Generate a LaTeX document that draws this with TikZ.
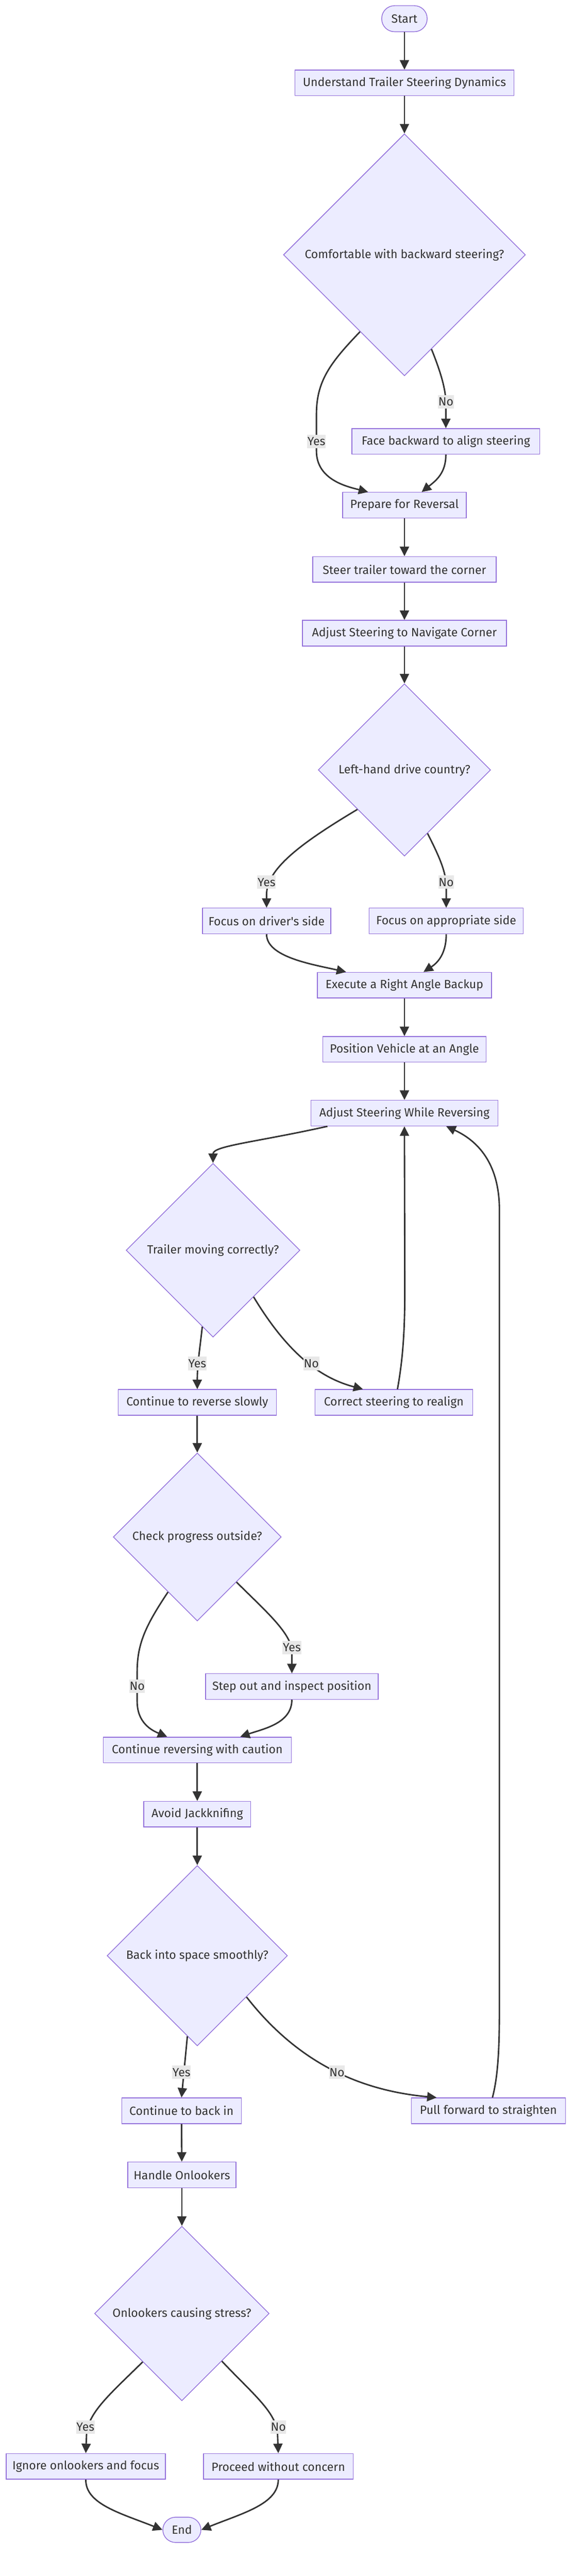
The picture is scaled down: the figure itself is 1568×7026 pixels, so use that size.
\documentclass[tikz,border=0pt]{standalone}
\usepackage{fontspec}
\setmainfont{Fira Sans}
\usetikzlibrary{shapes.geometric, arrows.meta, calc, positioning}
\definecolor{nodefill}{HTML}{ECECFF}
\definecolor{nodeline}{HTML}{9370DB}
\definecolor{inkgray}{HTML}{333333}
\definecolor{labelbg}{HTML}{E8E8E8}
\newcommand{\flowfont}{\fontsize{16.2}{19}\selectfont}
\tikzstyle{block} = [rectangle, draw=nodeline, fill=nodefill, line width=1pt, minimum height=35pt, inner sep=0pt, text=inkgray, font=\flowfont]
\tikzstyle{terminal} = [block, rounded corners=17.5pt]
\tikzstyle{decision} = [diamond, aspect=1, draw=nodeline, fill=nodefill, line width=1pt, inner sep=0pt, text=inkgray, font=\flowfont]
\tikzstyle{answer} = [rectangle, fill=labelbg, text=inkgray, inner xsep=0.5pt, inner ysep=0pt, minimum height=18.5pt, font=\flowfont]
\tikzstyle{arrow} = [line width=2pt, draw=inkgray, -{Triangle[length=13pt,width=12.5pt]}]

\begin{document}
\begin{tikzpicture}[x=0.5pt, y=-0.5pt]
		\useasboundingbox (0,0) rectangle (1568,7026);
		\node (Start) [terminal, minimum width=62pt, minimum height=35.5pt] at (1103,51) {Start};
		\node (Understand) [block, minimum width=298.5pt] at (1103,226) {Understand Trailer Steering Dynamics};
		\node (Comfortable) [decision, minimum width=330pt, minimum height=330pt] at (1103,695) {Comfortable with backward steering?};
		\node (FaceBackward) [block, minimum width=256pt] at (1216,1204) {Face backward to align steering};
		\node (Prepare) [block, minimum width=168.5pt] at (1103,1378) {Prepare for Reversal};
		\node (SteerCorner) [block, minimum width=250pt] at (1103,1553) {Steer trailer toward the corner};
		\node (AdjustCorner) [block, minimum width=278pt] at (1103,1727) {Adjust Steering to Navigate Corner};
		\node (LeftHand) [decision, minimum width=235pt, minimum height=235pt] at (1103,2100) {Left-hand drive country?};
		\node (FocusDriver) [block, minimum width=175pt] at (727,2512) {Focus on driver\textquotesingle s side};
		\node (FocusOther) [block, minimum width=210pt] at (1217,2512) {Focus on appropriate side};
		\node (RightAngle) [block, minimum width=237.5pt] at (1103,2687) {Execute a Right Angle Backup};
		\node (Position) [block, minimum width=223pt] at (1103,2862) {Position Vehicle at an Angle};
		\node (AdjustReverse) [block, minimum width=255pt] at (1103,3036) {Adjust Steering While Reversing};
		\node (MovingOK) [decision, minimum width=237pt, minimum height=237pt] at (581,3410) {Trailer moving correctly?};
		\node (ReverseSlowly) [block, minimum width=215.5pt] at (538,3825) {Continue to reverse slowly};
		\node (Realign) [block, minimum width=215pt] at (1074,3825) {Correct steering to realign};
		\node (CheckOutside) [decision, minimum width=229pt, minimum height=229pt] at (538,4192) {Check progress outside?};
		\node (StepOut) [block, minimum width=235.5pt] at (796,4600) {Step out and inspect position};
		\node (Caution) [block, minimum width=256.5pt] at (538,4773) {Continue reversing with caution};
		\node (Jackknife) [block, minimum width=146pt] at (538,4948) {Avoid Jackknifing};
		\node (Smoothly) [decision, minimum width=246pt, minimum height=246pt] at (538,5334) {Back into space smoothly?};
		\node (BackIn) [block, minimum width=163pt] at (495,5757) {Continue to back in};
		\node (PullForward) [block, minimum width=210pt] at (1332,5757) {Pull forward to straighten};
		\node (Onlookers) [block, minimum width=147.5pt] at (496,5932) {Handle Onlookers};
		\node (Stress) [decision, minimum width=238pt, minimum height=238pt] at (496,6310) {Onlookers causing stress?};
		\node (Ignore) [block, minimum width=217pt] at (234,6727) {Ignore onlookers and focus};
		\node (Proceed) [block, minimum width=204pt] at (759,6727) {Proceed without concern};
		\node (End) [terminal, minimum width=52pt, minimum height=34.5pt] at (496,6900) {End};

		\draw [arrow] (Start) -- (Understand);
		\draw [arrow] (Understand) -- (Comfortable);
		\draw [arrow] (Comfortable.240) .. controls (900,990) and (863,1040) .. (863,1130) -- (863,1230) .. controls (863,1310) and (950,1328) .. ([xshift=-49.5pt]Prepare.north);
		\draw [arrow] (Comfortable.286) .. controls (1200,1010) and (1216,1060) .. (1216,1100) -- (FaceBackward.north);
		\draw [arrow] (FaceBackward.south) .. controls (1216,1290) and (1190,1310) .. ([xshift=23.5pt]Prepare.north);
		\draw [arrow] (Prepare) -- (SteerCorner);
		\draw [arrow] (SteerCorner) -- (AdjustCorner);
		\draw [arrow] (AdjustCorner) -- (LeftHand);
		\draw [arrow] (LeftHand.220) .. controls (820,2300) and (727,2370) .. (727,2440) -- (FocusDriver.north);
		\draw [arrow] (LeftHand.290) .. controls (1200,2340) and (1217,2380) .. (1217,2420) -- (FocusOther.north);
		\draw [arrow] (FocusDriver.south) .. controls (727,2610) and (850,2630) .. ([xshift=-79.5pt]RightAngle.north);
		\draw [arrow] (FocusOther.south) .. controls (1217,2600) and (1195,2625) .. ([xshift=26pt]RightAngle.north);
		\draw [arrow] (RightAngle) -- (Position);
		\draw [arrow] (Position) -- (AdjustReverse);
		\draw [arrow] ([xshift=-105pt]AdjustReverse.south) .. controls (700,3115) and (581,3125) .. (MovingOK.north);
		\draw [arrow] (MovingOK.262) .. controls (545,3680) and (538,3720) .. (ReverseSlowly.north);
		\draw [arrow] (MovingOK.311) .. controls (790,3700) and (880,3760) .. ([xshift=-42pt]Realign.north);
		\draw [arrow] ([xshift=5pt]Realign.north) .. controls (1100,3700) and (1104,3620) .. (1104,3520) -- (AdjustReverse.south);
		\draw [arrow] (ReverseSlowly) -- (CheckOutside);
		\draw [arrow] (CheckOutside.242) .. controls (400,4430) and (374,4480) .. (374,4560) -- (374,4640) .. controls (374,4700) and (415,4720) .. ([xshift=-41pt]Caution.north);
		\draw [arrow] (CheckOutside.311) .. controls (720,4390) and (790,4450) .. (796,4500) -- (StepOut.north);
		\draw [arrow] (StepOut.south) .. controls (796,4700) and (720,4715) .. ([xshift=58.5pt]Caution.north);
		\draw [arrow] (Caution) -- (Jackknife);
		\draw [arrow] (Jackknife) -- (Smoothly);
		\draw [arrow] (Smoothly.263) -- (BackIn.north);
		\draw [arrow] (Smoothly.320) .. controls (800,5610) and (960,5700) .. ([xshift=-70.5pt]PullForward.north);
		\draw [arrow] ([xshift=5.5pt]PullForward.north) .. controls (1362,5650) and (1362,5550) .. (1362,5450) -- (1362,3300) .. controls (1362,3170) and (1300,3110) .. ([xshift=57pt]AdjustReverse.south);
		\draw [arrow] (BackIn) -- (Onlookers);
		\draw [arrow] (Onlookers) -- (Stress);
		\draw [arrow] (Stress.231) .. controls (300,6530) and (240,6580) .. (236,6640) -- (Ignore.north);
		\draw [arrow] (Stress.310) .. controls (690,6530) and (755,6580) .. (757,6640) -- (Proceed.north);
		\draw [arrow] (Ignore.south) .. controls (233,6830) and (330,6855) .. (End.west);
		\draw [arrow] (Proceed.south) .. controls (759,6830) and (660,6855) .. (End.east);

		\node (YesComfortable) [answer] at (863,1204) {Yes};
		\node (NoComfortable) [answer] at (1216,1096) {No};
		\node (YesLeftHand) [answer] at (727,2406) {Yes};
		\node (NoLeftHand) [answer] at (1217,2406) {No};
		\node (YesMoving) [answer] at (538,3719) {Yes};
		\node (NoMoving) [answer] at (849,3719) {No};
		\node (NoOutside) [answer] at (374,4599) {No};
		\node (YesOutside) [answer] at (796,4494) {Yes};
		\node (YesSmoothly) [answer] at (495,5652) {Yes};
		\node (NoSmoothly) [answer] at (919,5652) {No};
		\node (YesStress) [answer] at (233,6620) {Yes};
		\node (NoStress) [answer] at (759,6620) {No};
\end{tikzpicture}
\end{document}
